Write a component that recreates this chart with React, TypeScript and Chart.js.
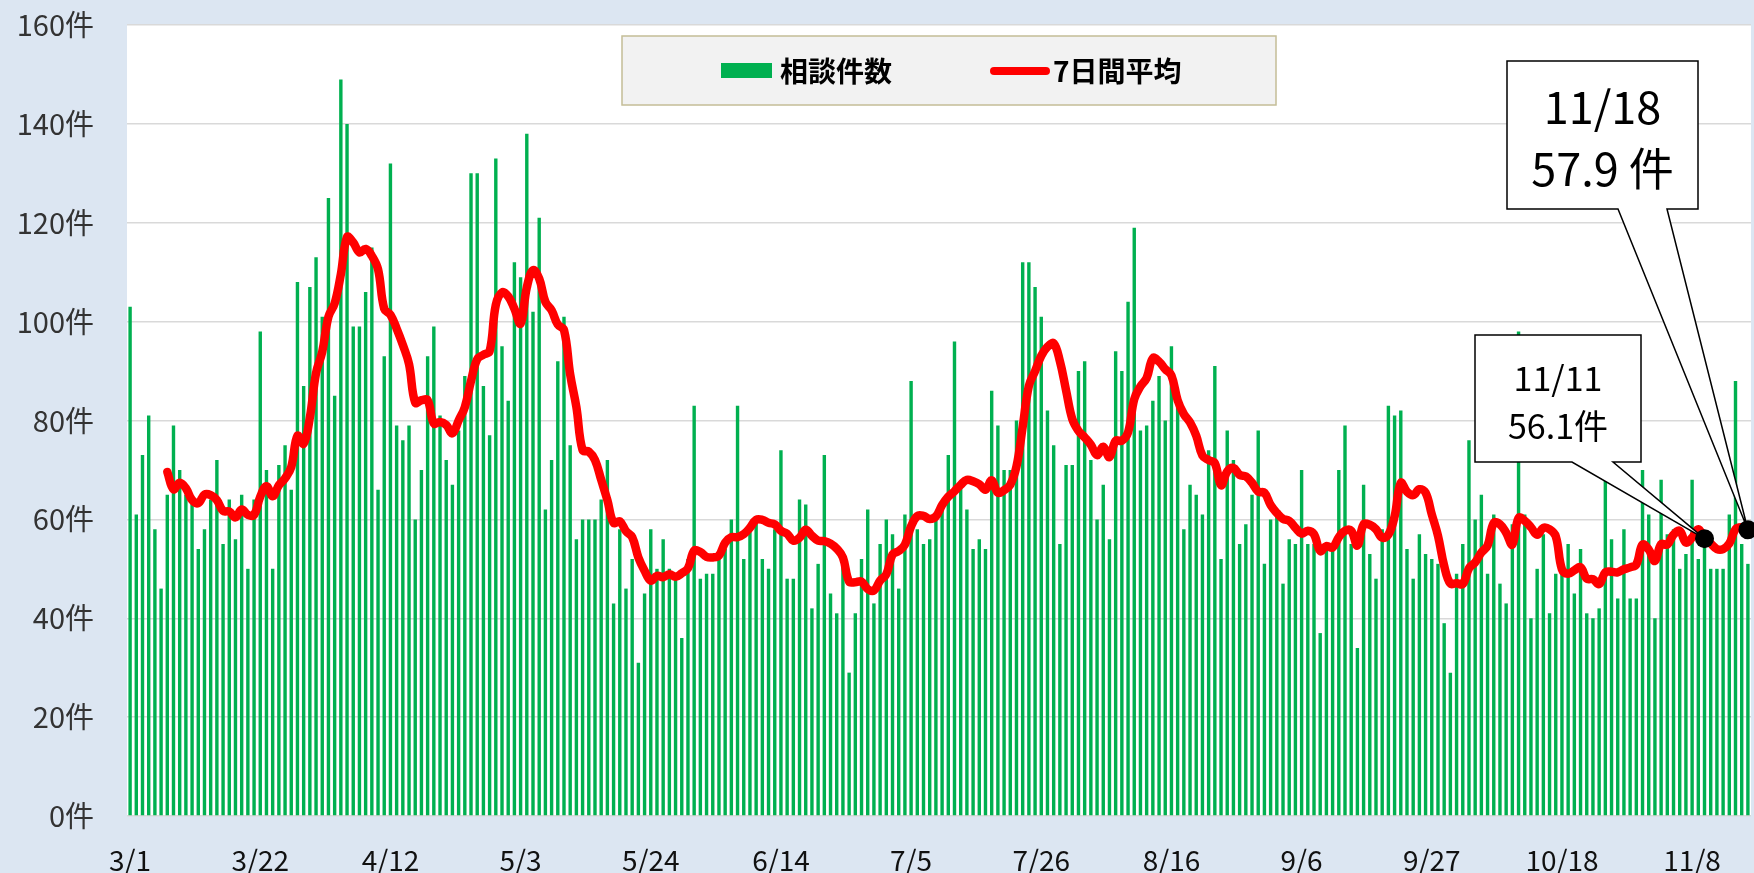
import React, { useEffect, useRef } from 'react';
import { Chart, registerables } from 'chart.js';

Chart.register(...registerables);

// 相談件数 (daily consultations), from 3/1
const COUNTS: number[] = [
  103, 61, 73, 81, 58, 46, 65, 79, 70, 65, 64, 54, 58, 64, 72, 55, 64, 56, 65, 50,
  64, 98, 70, 50, 71, 75, 66, 108, 87, 107, 113, 101, 125, 85, 149, 140, 99, 99, 106, 115,
  66, 93, 132, 79, 76, 79, 60, 70, 93, 99, 81, 72, 67, 78, 89, 130, 130, 87, 77, 133,
  95, 84, 112, 109, 138, 102, 121, 62, 72, 92, 101, 75, 56, 60, 60, 60, 64, 72, 43, 58,
  46, 52, 31, 45, 58, 50, 56, 50, 49, 36, 52, 83, 48, 49, 49, 52, 54, 60, 83, 52,
  58, 60, 52, 50, 58, 74, 48, 48, 64, 63, 42, 51, 73, 45, 41, 51, 29, 41, 52, 62,
  43, 55, 60, 57, 46, 61, 88, 58, 55, 56, 60, 62, 73, 96, 67, 62, 54, 56, 54, 86,
  79, 70, 70, 80, 112, 112, 107, 101, 82, 75, 55, 71, 71, 90, 92, 72, 60, 67, 56, 94,
  90, 104, 119, 78, 79, 84, 89, 80, 95, 84, 58, 67, 65, 61, 74, 91, 52, 78, 72, 55,
  59, 65, 78, 51, 60, 61, 47, 56, 55, 70, 55, 55, 37, 54, 54, 70, 79, 55, 34, 67,
  53, 48, 58, 83, 81, 82, 54, 48, 57, 53, 52, 51, 39, 29, 49, 55, 76, 60, 65, 49,
  61, 47, 43, 59, 98, 61, 40, 50, 57, 41, 49, 51, 55, 45, 54, 41, 40, 42, 68, 56,
  44, 58, 44, 44, 70, 61, 40, 68, 57, 58, 50, 53, 68, 52, 55, 50, 50, 50, 61, 88,
  55, 51,
];

// 7日間平均 (7-day average), first 6 days have no value
const AVG7: (number | null)[] = [
  null, null, null, null, null, null,
  69.6, 66.1, 67.4, 66.3, 63.9, 63.3, 65.0, 64.9, 63.9, 61.7, 61.6, 60.4, 62.0, 60.9,
  60.9, 64.6, 66.7, 64.7, 66.9, 68.3, 70.6, 76.9, 75.3, 80.6, 89.6, 93.9, 101.0, 103.7,
  109.6, 117.1, 116.0, 114.0, 114.7, 113.3, 110.6, 102.6, 101.4, 98.6, 95.3, 91.4, 83.6, 84.1,
  84.1, 79.4, 79.7, 79.1, 77.4, 80.0, 82.7, 88.0, 92.4, 93.3, 94.0, 103.4, 105.9, 105.1,
  102.6, 99.6, 106.9, 110.4, 108.7, 104.0, 102.3, 99.4, 98.3, 89.3, 82.7, 74.0, 73.7, 72.0,
  68.0, 63.9, 59.3, 59.6, 57.6, 56.4, 52.3, 49.6, 47.6, 48.6, 48.3, 48.9, 48.4, 49.1,
  50.1, 53.7, 53.4, 52.4, 52.3, 52.7, 55.3, 56.4, 56.4, 57.0, 58.3, 59.9, 59.9, 59.3,
  59.0, 57.7, 57.1, 55.7, 56.3, 57.9, 56.7, 55.7, 55.6, 55.1, 54.1, 52.3, 47.4, 47.3,
  47.4, 45.9, 45.6, 47.6, 48.9, 52.9, 53.6, 54.9, 58.6, 60.7, 60.7, 60.1, 60.6, 62.9,
  64.6, 65.7, 67.0, 68.0, 67.7, 67.1, 66.0, 67.9, 65.4, 65.9, 67.0, 70.7, 78.7, 87.0,
  90.0, 93.1, 94.9, 95.6, 92.0, 86.1, 80.3, 77.9, 76.6, 75.1, 73.0, 74.7, 72.6, 75.9,
  75.9, 77.6, 84.3, 86.9, 88.6, 92.6, 91.9, 90.4, 89.1, 84.1, 81.3, 79.6, 76.9, 72.9,
  72.0, 71.4, 66.9, 69.7, 70.4, 69.0, 68.7, 67.4, 65.6, 65.4, 62.9, 61.3, 60.1, 59.7,
  58.3, 57.1, 57.7, 57.0, 53.6, 54.6, 54.3, 56.4, 57.7, 57.7, 54.7, 59.0, 58.9, 58.0,
  56.3, 56.9, 60.6, 67.4, 65.6, 64.9, 66.1, 65.4, 61.0, 56.7, 50.6, 47.0, 47.1, 46.9,
  50.1, 51.3, 53.3, 54.7, 59.3, 59.0, 57.3, 54.9, 60.3, 59.7, 58.4, 56.9, 58.3, 58.0,
  56.6, 49.9, 49.0, 49.7, 50.3, 48.0, 47.9, 46.9, 49.3, 49.4, 49.3, 49.9, 50.3, 50.9,
  54.9, 53.9, 51.6, 55.0, 54.9, 56.9, 57.7, 55.3, 56.3, 58.0, 56.1, 55.1, 54.0, 54.0,
  55.1, 58.0, 58.4, 57.9,
];

// month, days in month (category dates start at 3/1)
const MONTHS: [number, number][] = [
  [3, 31], [4, 30], [5, 31], [6, 30], [7, 31], [8, 31], [9, 30], [10, 31], [11, 30],
];
const CATEGORIES: string[] = [];
for (const [m, d] of MONTHS) {
  for (let day = 1; day <= d && CATEGORIES.length < COUNTS.length; day++) {
    CATEGORIES.push(`${m}/${day}`);
  }
}

const TICK_LABELS: string[] = [
  '3/1', '3/22', '4/12', '5/3', '5/24', '6/14', '7/5', '7/26', '8/16', '9/6', '9/27', '10/18', '11/8',
];
const TICK_EVERY = 21;

const Y_TICKS: number[] = [0, 20, 40, 60, 80, 100, 120, 140, 160];

// callouts: index into the series, date text and value text
const CALLOUTS = [
  { index: 261, date: '11/18', value: '57.9 件' },
  { index: 254, date: '11/11', value: '56.1件' },
];

const FONT = '"Noto Sans CJK JP", "Noto Sans", sans-serif';

export default function App() {
  const ref = useRef<HTMLCanvasElement | null>(null);

  useEffect(() => {
    document.body.style.margin = '0';
    const canvas = ref.current;
    if (!canvas) return;

    const bgPlugin = {
      id: 'bgPlugin',
      beforeDraw(chart: any) {
        const { ctx, chartArea: a, width, height } = chart;
        ctx.save();
        ctx.fillStyle = '#dce6f2';
        ctx.fillRect(0, 0, width, height);
        ctx.fillStyle = '#ffffff';
        ctx.fillRect(a.left, a.top, a.right - a.left, a.bottom - a.top);
        ctx.restore();
      },
    };

    const overlayPlugin = {
      id: 'overlayPlugin',
      afterDraw(chart: any) {
        const { ctx } = chart;
        const xs = chart.scales.x;
        const ys = chart.scales.y;
        ctx.save();

        // legend box
        ctx.fillStyle = '#f2f2f2';
        ctx.fillRect(622, 36, 654, 69);
        ctx.strokeStyle = '#c4bd97';
        ctx.lineWidth = 1.5;
        ctx.strokeRect(622, 36, 654, 69);
        ctx.fillStyle = '#00b050';
        ctx.fillRect(721, 63, 51, 15);
        ctx.fillStyle = '#000';
        ctx.font = `bold 28px ${FONT}`;
        ctx.textBaseline = 'middle';
        ctx.textAlign = 'left';
        ctx.fillText(chart.data.datasets[1].label, 780, 71);
        ctx.strokeStyle = '#ff0000';
        ctx.lineWidth = 8;
        ctx.lineCap = 'round';
        ctx.beginPath();
        ctx.moveTo(994, 71);
        ctx.lineTo(1046, 71);
        ctx.stroke();
        ctx.fillText(chart.data.datasets[0].label, 1053, 71);

        // callouts
        const shapes = [
          { box: [1507, 61, 1698, 209], base: [1618, 1667], font: 45, ly: [107, 169] },
          { box: [1475, 335, 1641, 462], base: [1572, 1613], font: 34, ly: [378, 426] },
        ];
        CALLOUTS.forEach((c, k) => {
          const s = shapes[k];
          const tx = xs.getPixelForValue(c.index);
          const tyv = AVG7[c.index] as number;
          const ty = ys.getPixelForValue(tyv);
          const [l, t, r, b] = s.box;
          ctx.beginPath();
          ctx.moveTo(l, t);
          ctx.lineTo(r, t);
          ctx.lineTo(r, b);
          ctx.lineTo(s.base[1], b);
          ctx.lineTo(tx, ty);
          ctx.lineTo(s.base[0], b);
          ctx.lineTo(l, b);
          ctx.closePath();
          ctx.fillStyle = '#ffffff';
          ctx.fill();
          ctx.strokeStyle = '#000';
          ctx.lineWidth = 1.5;
          ctx.lineCap = 'butt';
          ctx.lineJoin = 'miter';
          ctx.stroke();
          ctx.fillStyle = '#000';
          ctx.font = `${s.font}px ${FONT}`;
          ctx.textAlign = 'center';
          ctx.textBaseline = 'middle';
          ctx.fillText(c.date, (l + r) / 2, s.ly[0]);
          ctx.fillText(c.value, (l + r) / 2, s.ly[1]);
          // dot
          ctx.beginPath();
          ctx.arc(tx, ty, 9.5, 0, Math.PI * 2);
          ctx.fill();
        });
        ctx.restore();
      },
    };

    const chart = new Chart(canvas, {
      type: 'bar',
      data: {
        labels: CATEGORIES,
        datasets: [
          {
            type: 'line',
            label: '7日間平均',
            data: AVG7,
            borderColor: '#ff0000',
            backgroundColor: '#ff0000',
            borderWidth: 8.5,
            pointRadius: 0,
            tension: 0.4,
            borderCapStyle: 'round',
            borderJoinStyle: 'round',
            spanGaps: false,
            order: 0,
          } as any,
          {
            type: 'bar',
            label: '相談件数',
            data: COUNTS,
            backgroundColor: '#00b050',
            barPercentage: 0.55,
            categoryPercentage: 1,
            order: 1,
          } as any,
        ],
      },
      options: {
        animation: false,
        responsive: false,
        devicePixelRatio: 1,
        layout: { padding: { left: 0, right: 3, top: 25, bottom: 0 } },
        plugins: {
          legend: { display: false },
          tooltip: { enabled: false },
        },
        scales: {
          x: {
            type: 'category',
            grid: { display: false },
            border: { display: false },
            ticks: {
              autoSkip: false,
              maxRotation: 0,
              minRotation: 0,
              padding: 20,
              color: '#111',
              font: { family: FONT, size: 28 },
              callback: (_v: any, i: number) =>
                i % TICK_EVERY === 0 ? TICK_LABELS[i / TICK_EVERY] ?? null : null,
            },
            afterFit: (s: any) => {
              s.height = 57;
              s.paddingLeft = 0;
              s.paddingRight = 0;
            },
          },
          y: {
            min: 0,
            max: 160,
            afterBuildTicks: (s: any) => {
              s.ticks = Y_TICKS.map((v) => ({ value: v }));
            },
            grid: { color: '#d9d9d9', lineWidth: 1.5, drawTicks: false },
            border: { display: false },
            ticks: {
              padding: 33,
              color: '#333',
              font: { family: FONT, size: 29 },
              callback: (v: any) => `${v}件`,
            },
            afterFit: (s: any) => {
              s.width = 127;
              s.paddingTop = 0;
              s.paddingBottom = 0;
            },
          },
        },
      },
      plugins: [bgPlugin, overlayPlugin],
    });

    return () => chart.destroy();
  }, []);

  return (
    <div style={{ width: 1754, height: 873, background: '#dce6f2' }}>
      <canvas ref={ref} width={1754} height={873} style={{ display: 'block' }} />
    </div>
  );
}
